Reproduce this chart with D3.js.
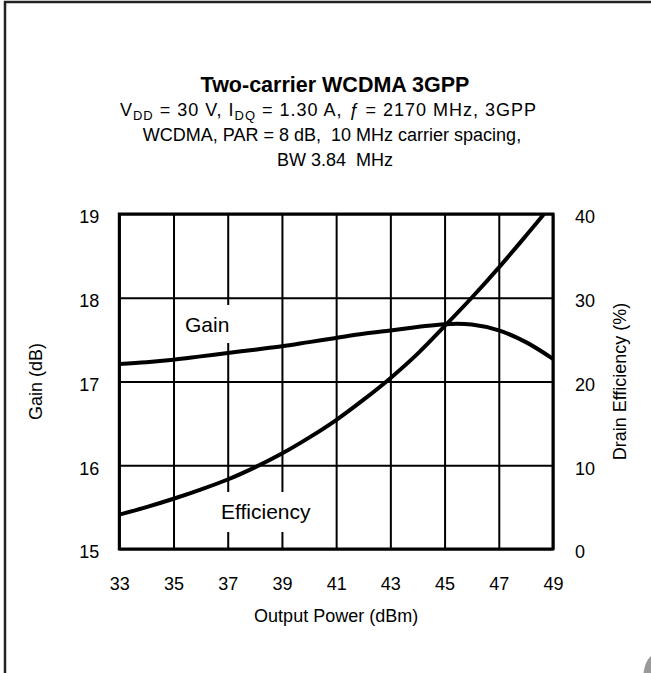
<!DOCTYPE html>
<html>
<head>
<meta charset="utf-8">
<script src="https://cdn.jsdelivr.net/npm/d3@7"></script>
<style>
  html, body { margin: 0; padding: 0; background: #fff; }
  svg { display: block; }
  text { font-family: "Liberation Sans", Arial, sans-serif; fill: #000; white-space: pre; }
</style>
</head>
<body>
<svg id="chart" width="651" height="673"></svg>
<script>
// ---- data ----
const xTicks = [33, 35, 37, 39, 41, 43, 45, 47, 49];
const gainTicks = [15, 16, 17, 18, 19];
const effTicks = [0, 10, 20, 30, 40];

const gainPower = [33, 34, 35, 36, 37, 38, 39, 40, 41, 42, 43, 44, 45, 46, 47, 48, 49];
const gainDb    = [17.21, 17.23, 17.26, 17.30, 17.34, 17.38, 17.42, 17.47, 17.52, 17.57, 17.61, 17.65, 17.685, 17.68, 17.61, 17.47, 17.27];

const effPower = [33, 34, 35, 36, 37, 38, 39, 40, 41, 42, 43, 44, 45, 46, 47, 48, 49];
const effPct   = [4.1, 5.0, 6.0, 7.1, 8.3, 9.75, 11.4, 13.3, 15.4, 17.8, 20.4, 23.3, 26.6, 30.0, 33.6, 37.4, 41.3];

const titleText = "Two-carrier WCDMA 3GPP";
const subLine2 = "WCDMA, PAR = 8 dB,  10 MHz carrier spacing,";
const subLine3 = "BW 3.84  MHz";

// ---- layout ----
const svg = d3.select("#chart");
const L = 119.3, R = 553, T = 214, B = 549;
const x = d3.scaleLinear().domain([33, 49]).range([L, R]);
const yG = d3.scaleLinear().domain([15, 19]).range([B, T]);
const yE = d3.scaleLinear().domain([0, 40]).range([B, T]);
const FONT = 18;

// outer frame
svg.append("path").attr("d", "M5,673 V2 H651")
  .attr("fill", "none").attr("stroke", "#222").attr("stroke-width", 2.5);
// corner blob
svg.append("path").attr("d", "M651,656 Q645,661 643.5,673 L651,673 Z").attr("fill", "#9a9a9a");

// title
const cx = 335;
svg.append("text").attr("x", cx).attr("y", 92).attr("text-anchor", "middle")
  .attr("font-size", 21.5).attr("font-weight", "bold").text(titleText);

const l1 = svg.append("text").attr("x", 328).attr("y", 116).attr("text-anchor", "middle")
  .attr("font-size", FONT).attr("textLength", 416).attr("lengthAdjust", "spacing");
l1.append("tspan").text("V");
l1.append("tspan").attr("font-size", 13).attr("dy", 4).text("DD");
l1.append("tspan").attr("dy", -4).text(" = 30 V, I");
l1.append("tspan").attr("font-size", 13).attr("dy", 4).text("DQ");
l1.append("tspan").attr("dy", -4).text(" = 1.30 A, ");
l1.append("tspan").attr("font-style", "italic").text("ƒ");
l1.append("tspan").text(" = 2170 MHz, 3GPP");

svg.append("text").attr("x", 332).attr("y", 141).attr("text-anchor", "middle").attr("font-size", FONT).text(subLine2);
svg.append("text").attr("x", cx).attr("y", 166).attr("text-anchor", "middle").attr("font-size", FONT).text(subLine3);

// grid via axes
const gx = svg.append("g").attr("transform", `translate(0,${B})`)
  .call(d3.axisBottom(x).tickValues(xTicks).tickSize(-(B - T)).tickPadding(28).tickFormat(d3.format("d")));
const gl = svg.append("g").attr("transform", `translate(${L},0)`)
  .call(d3.axisLeft(yG).tickValues(gainTicks).tickSize(-(R - L)).tickPadding(20).tickFormat(d3.format("d")));
const gr = svg.append("g").attr("transform", `translate(${R},0)`)
  .call(d3.axisRight(yE).tickValues(effTicks).tickSize(0).tickPadding(22).tickFormat(d3.format("d")));

[gx, gl, gr].forEach(g => {
  g.select(".domain").remove();
  g.selectAll(".tick line").attr("stroke", "#000").attr("stroke-width", 2);
  g.selectAll(".tick text").attr("font-size", FONT).attr("font-family", "Liberation Sans, Arial, sans-serif").attr("fill", "#000");
});
gl.selectAll(".tick text").attr("dy", "0.49em");
gr.selectAll(".tick text").attr("dy", "0.49em");

// label backgrounds (break the grid lines)
svg.append("rect").attr("x", 180).attr("y", 305).attr("width", 54).attr("height", 38).attr("fill", "#fff");
svg.append("rect").attr("x", 215).attr("y", 492).attr("width", 107).attr("height", 40).attr("fill", "#fff");

// clip
svg.append("clipPath").attr("id", "plotclip").append("rect")
  .attr("x", L).attr("y", T).attr("width", R - L).attr("height", B - T);

// curves
const gainLine = d3.line().x((d, i) => x(gainPower[i])).y(d => yG(d)).curve(d3.curveCatmullRom.alpha(0.5));
const effLine = d3.line().x((d, i) => x(effPower[i])).y(d => yE(d)).curve(d3.curveCatmullRom.alpha(0.5));
svg.append("path").attr("d", gainLine(gainDb)).attr("fill", "none").attr("stroke", "#000")
  .attr("stroke-width", 4).attr("clip-path", "url(#plotclip)");
svg.append("path").attr("d", effLine(effPct)).attr("fill", "none").attr("stroke", "#000")
  .attr("stroke-width", 4).attr("clip-path", "url(#plotclip)");

// curve labels
svg.append("text").attr("x", 185).attr("y", 332).attr("font-size", 21).text("Gain");
svg.append("text").attr("x", 221).attr("y", 519).attr("font-size", 21).text("Efficiency");

// plot border
svg.append("rect").attr("x", L).attr("y", T).attr("width", R - L).attr("height", B - T)
  .attr("fill", "none").attr("stroke", "#000").attr("stroke-width", 3);

// axis titles
svg.append("text").attr("x", (L + R) / 2).attr("y", 622).attr("text-anchor", "middle")
  .attr("font-size", FONT).text("Output Power (dBm)");
svg.append("text").attr("transform", `translate(42,${(T + B) / 2}) rotate(-90)`).attr("text-anchor", "middle")
  .attr("font-size", FONT).text("Gain (dB)");
svg.append("text").attr("transform", `translate(626,${(T + B) / 2}) rotate(-90)`).attr("text-anchor", "middle")
  .attr("font-size", FONT).text("Drain Efficiency (%)");
</script>
</body>
</html>
